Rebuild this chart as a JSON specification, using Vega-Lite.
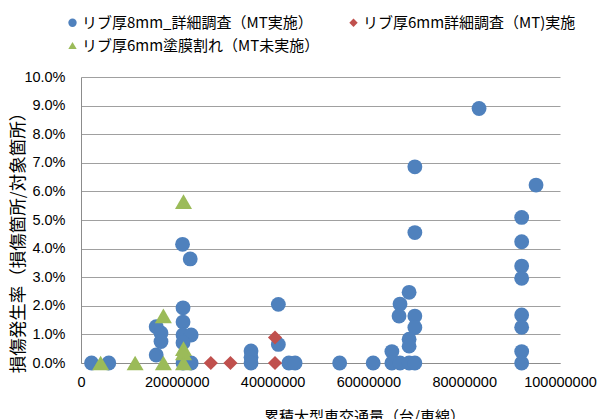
{
  "$schema": "https://vega.github.io/schema/vega-lite/v6.json",
  "width": 479,
  "height": 286,
  "autosize": {"type": "none"},
  "padding": {"left": 81, "top": 77, "right": 41, "bottom": 56},
  "background": "white",
  "config": {"view": {"stroke": null}, "font": "Noto Sans CJK JP"},
  "datasets": {
    "pts": [
      {"s": "リブ厚8mm_詳細調査（MT実施）", "x": 2200000, "y": 0},
      {"s": "リブ厚8mm_詳細調査（MT実施）", "x": 5800000, "y": 0},
      {"s": "リブ厚8mm_詳細調査（MT実施）", "x": 15700000, "y": 0.0127},
      {"s": "リブ厚8mm_詳細調査（MT実施）", "x": 16700000, "y": 0.0105},
      {"s": "リブ厚8mm_詳細調査（MT実施）", "x": 16700000, "y": 0.0075},
      {"s": "リブ厚8mm_詳細調査（MT実施）", "x": 15700000, "y": 0.0028},
      {"s": "リブ厚8mm_詳細調査（MT実施）", "x": 21200000, "y": 0.0415},
      {"s": "リブ厚8mm_詳細調査（MT実施）", "x": 22800000, "y": 0.0364},
      {"s": "リブ厚8mm_詳細調査（MT実施）", "x": 21300000, "y": 0.0193},
      {"s": "リブ厚8mm_詳細調査（MT実施）", "x": 21300000, "y": 0.0143},
      {"s": "リブ厚8mm_詳細調査（MT実施）", "x": 21300000, "y": 0.0098},
      {"s": "リブ厚8mm_詳細調査（MT実施）", "x": 23000000, "y": 0.0098},
      {"s": "リブ厚8mm_詳細調査（MT実施）", "x": 21300000, "y": 0.0071},
      {"s": "リブ厚8mm_詳細調査（MT実施）", "x": 21300000, "y": 0},
      {"s": "リブ厚8mm_詳細調査（MT実施）", "x": 23000000, "y": 0},
      {"s": "リブ厚8mm_詳細調査（MT実施）", "x": 35500000, "y": 0.0042},
      {"s": "リブ厚8mm_詳細調査（MT実施）", "x": 35500000, "y": 0.002},
      {"s": "リブ厚8mm_詳細調査（MT実施）", "x": 35500000, "y": 0},
      {"s": "リブ厚8mm_詳細調査（MT実施）", "x": 41200000, "y": 0.0205},
      {"s": "リブ厚8mm_詳細調査（MT実施）", "x": 41200000, "y": 0.0065},
      {"s": "リブ厚8mm_詳細調査（MT実施）", "x": 43400000, "y": 0},
      {"s": "リブ厚8mm_詳細調査（MT実施）", "x": 44700000, "y": 0},
      {"s": "リブ厚8mm_詳細調査（MT実施）", "x": 54000000, "y": 0},
      {"s": "リブ厚8mm_詳細調査（MT実施）", "x": 61000000, "y": 0},
      {"s": "リブ厚8mm_詳細調査（MT実施）", "x": 64900000, "y": 0.004},
      {"s": "リブ厚8mm_詳細調査（MT実施）", "x": 64900000, "y": 0},
      {"s": "リブ厚8mm_詳細調査（MT実施）", "x": 66600000, "y": 0},
      {"s": "リブ厚8mm_詳細調査（MT実施）", "x": 68500000, "y": 0},
      {"s": "リブ厚8mm_詳細調査（MT実施）", "x": 69700000, "y": 0},
      {"s": "リブ厚8mm_詳細調査（MT実施）", "x": 66600000, "y": 0.0206},
      {"s": "リブ厚8mm_詳細調査（MT実施）", "x": 66400000, "y": 0.0164},
      {"s": "リブ厚8mm_詳細調査（MT実施）", "x": 68500000, "y": 0.0247},
      {"s": "リブ厚8mm_詳細調査（MT実施）", "x": 69700000, "y": 0.0164},
      {"s": "リブ厚8mm_詳細調査（MT実施）", "x": 69700000, "y": 0.0124},
      {"s": "リブ厚8mm_詳細調査（MT実施）", "x": 68500000, "y": 0.0083},
      {"s": "リブ厚8mm_詳細調査（MT実施）", "x": 68500000, "y": 0.0059},
      {"s": "リブ厚8mm_詳細調査（MT実施）", "x": 69700000, "y": 0.0456},
      {"s": "リブ厚8mm_詳細調査（MT実施）", "x": 69700000, "y": 0.0686},
      {"s": "リブ厚8mm_詳細調査（MT実施）", "x": 83100000, "y": 0.089},
      {"s": "リブ厚8mm_詳細調査（MT実施）", "x": 92000000, "y": 0.0509},
      {"s": "リブ厚8mm_詳細調査（MT実施）", "x": 92000000, "y": 0.0424},
      {"s": "リブ厚8mm_詳細調査（MT実施）", "x": 92000000, "y": 0.0339},
      {"s": "リブ厚8mm_詳細調査（MT実施）", "x": 92000000, "y": 0.0296},
      {"s": "リブ厚8mm_詳細調査（MT実施）", "x": 92000000, "y": 0.0168},
      {"s": "リブ厚8mm_詳細調査（MT実施）", "x": 92000000, "y": 0.0125},
      {"s": "リブ厚8mm_詳細調査（MT実施）", "x": 92000000, "y": 0.004},
      {"s": "リブ厚8mm_詳細調査（MT実施）", "x": 92000000, "y": 0},
      {"s": "リブ厚8mm_詳細調査（MT実施）", "x": 95000000, "y": 0.0622},
      {"s": "リブ厚6mm詳細調査（MT)実施", "x": 27100000, "y": 0},
      {"s": "リブ厚6mm詳細調査（MT)実施", "x": 31200000, "y": 0},
      {"s": "リブ厚6mm詳細調査（MT)実施", "x": 40500000, "y": 0},
      {"s": "リブ厚6mm詳細調査（MT)実施", "x": 40500000, "y": 0.0089},
      {"s": "リブ厚6mm塗膜割れ（MT未実施）", "x": 4100000, "y": 0},
      {"s": "リブ厚6mm塗膜割れ（MT未実施）", "x": 11300000, "y": 0},
      {"s": "リブ厚6mm塗膜割れ（MT未実施）", "x": 17200000, "y": 0.0165},
      {"s": "リブ厚6mm塗膜割れ（MT未実施）", "x": 17200000, "y": 0},
      {"s": "リブ厚6mm塗膜割れ（MT未実施）", "x": 21400000, "y": 0.0564},
      {"s": "リブ厚6mm塗膜割れ（MT未実施）", "x": 21400000, "y": 0.005},
      {"s": "リブ厚6mm塗膜割れ（MT未実施）", "x": 21400000, "y": 0.0035},
      {"s": "リブ厚6mm塗膜割れ（MT未実施）", "x": 21400000, "y": 0}
    ]
  },
  "data": {"name": "pts"},
  "encoding": {
    "x": {
      "field": "x", "type": "quantitative",
      "scale": {"domain": [0, 100000000], "nice": false, "zero": true},
      "axis": {
        "values": [0, 20000000, 40000000, 60000000, 80000000, 100000000],
        "format": "d", "grid": false, "ticks": false, "tickSize": 0,
        "domainColor": "#8c8c8c", "domainWidth": 1,
        "labelFont": "Liberation Sans", "labelFontSize": 14.5, "labelColor": "#000",
        "labelPadding": 12, "labelFlush": false, "labelOverlap": false,
        "title": "累積大型車交通量（台/車線）", "titleFont": "Noto Sans CJK JP",
        "titleFontSize": 15, "titleFontWeight": "normal", "titleColor": "#000",
        "titleX": 283, "titleY": 53, "titleBaseline": "middle", "titleAlign": "center"
      }
    },
    "y": {
      "field": "y", "type": "quantitative",
      "scale": {"domain": [0, 0.1], "nice": false},
      "axis": {
        "values": [0, 0.01, 0.02, 0.03, 0.04, 0.05, 0.06, 0.07, 0.08, 0.09, 0.1],
        "format": ".1%", "grid": true, "gridColor": "#a0a0a0", "gridWidth": 1,
        "ticks": false, "tickSize": 0,
        "domainColor": "#8c8c8c", "domainWidth": 1,
        "labelFont": "Liberation Sans", "labelFontSize": 14.5, "labelColor": "#000",
        "labelPadding": 16,
        "title": "損傷発生率（損傷箇所/対象箇所）", "titleFont": "Noto Sans CJK JP",
        "titleFontSize": 17.5, "titleFontWeight": "normal", "titleColor": "#000",
        "titleX": -63, "titleY": 161, "titleAngle": -90, "titleBaseline": "middle", "titleAlign": "center"
      }
    },
    "color": {
      "field": "s", "type": "nominal",
      "scale": {
        "domain": ["リブ厚8mm_詳細調査（MT実施）", "リブ厚6mm詳細調査（MT)実施", "リブ厚6mm塗膜割れ（MT未実施）"],
        "range": ["#4F81BD", "#C0504D", "#9BBB59"]
      },
      "legend": {
        "orient": "none", "legendX": -16, "legendY": -62, "direction": "horizontal",
        "columns": 2, "columnPadding": 26, "rowPadding": 7,
        "title": null, "symbolSize": 70, "symbolStrokeWidth": 0,
        "labelFont": "Noto Sans CJK JP", "labelFontSize": 15, "labelColor": "#000",
        "labelLimit": 400, "labelOffset": 2
      }
    },
    "shape": {
      "field": "s", "type": "nominal",
      "scale": {
        "domain": ["リブ厚8mm_詳細調査（MT実施）", "リブ厚6mm詳細調査（MT)実施", "リブ厚6mm塗膜割れ（MT未実施）"],
        "range": ["circle", "diamond", "triangle-up"]
      }
    }
  },
  "layer": [
    {
      "transform": [{"filter": "datum.s === 'リブ厚8mm_詳細調査（MT実施）'"}],
      "mark": {"type": "point", "filled": true, "opacity": 1, "strokeWidth": 0, "size": 220}
    },
    {
      "transform": [{"filter": "datum.s === 'リブ厚6mm詳細調査（MT)実施'"}],
      "mark": {"type": "point", "filled": true, "opacity": 1, "strokeWidth": 0, "size": 200}
    },
    {
      "transform": [{"filter": "datum.s === 'リブ厚6mm塗膜割れ（MT未実施）'"}],
      "mark": {"type": "point", "filled": true, "opacity": 1, "strokeWidth": 0, "size": 290}
    }
  ]
}
